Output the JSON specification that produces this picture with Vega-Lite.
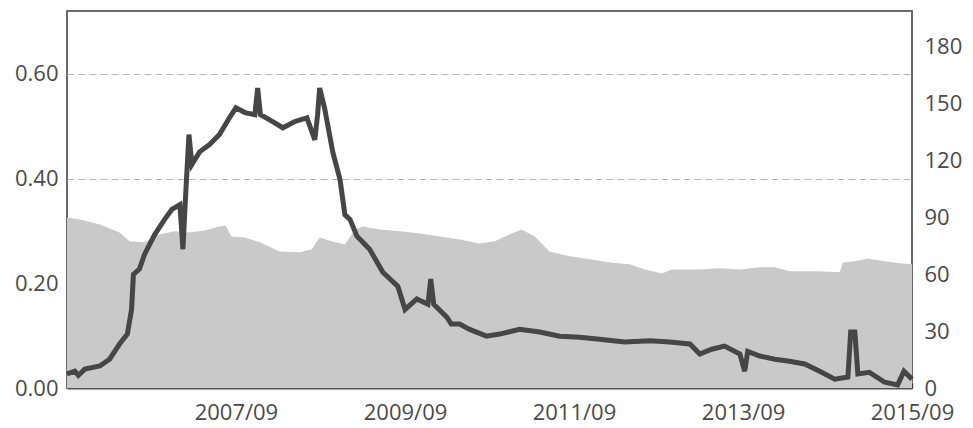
{
  "$schema": "https://vega.github.io/schema/vega-lite/v6.json",
  "width": 845,
  "height": 377,
  "autosize": {"type": "none"},
  "padding": {"left": 67, "top": 11, "right": 61, "bottom": 40},
  "background": "white",
  "config": {
    "view": {"stroke": "#6a6a6a", "strokeWidth": 2},
    "axis": {"labelFont": "Open Sans", "labelFontSize": 22, "labelColor": "#4a4a4a", "domain": false, "ticks": false, "grid": false}
  },
  "datasets": {
    "ratio": [
      {"date": "2005-09-01", "v": 0.027},
      {"date": "2005-10-05", "v": 0.032},
      {"date": "2005-10-20", "v": 0.024},
      {"date": "2005-11-17", "v": 0.036},
      {"date": "2006-01-21", "v": 0.042},
      {"date": "2006-03-04", "v": 0.055},
      {"date": "2006-04-16", "v": 0.084},
      {"date": "2006-05-20", "v": 0.103},
      {"date": "2006-06-07", "v": 0.150},
      {"date": "2006-06-15", "v": 0.217},
      {"date": "2006-07-11", "v": 0.227},
      {"date": "2006-08-02", "v": 0.255},
      {"date": "2006-09-15", "v": 0.293},
      {"date": "2006-10-28", "v": 0.322},
      {"date": "2006-11-28", "v": 0.341},
      {"date": "2007-01-02", "v": 0.350},
      {"date": "2007-01-15", "v": 0.265},
      {"date": "2007-01-28", "v": 0.379},
      {"date": "2007-02-10", "v": 0.484},
      {"date": "2007-02-23", "v": 0.427},
      {"date": "2007-03-28", "v": 0.451},
      {"date": "2007-05-10", "v": 0.465},
      {"date": "2007-06-22", "v": 0.484},
      {"date": "2007-08-04", "v": 0.516},
      {"date": "2007-09-01", "v": 0.535},
      {"date": "2007-10-10", "v": 0.526},
      {"date": "2007-11-22", "v": 0.522},
      {"date": "2007-12-04", "v": 0.573},
      {"date": "2007-12-16", "v": 0.522},
      {"date": "2008-01-25", "v": 0.512},
      {"date": "2008-03-22", "v": 0.497},
      {"date": "2008-05-13", "v": 0.509},
      {"date": "2008-07-04", "v": 0.516},
      {"date": "2008-08-07", "v": 0.474},
      {"date": "2008-08-19", "v": 0.522},
      {"date": "2008-08-28", "v": 0.573},
      {"date": "2008-09-18", "v": 0.535},
      {"date": "2008-10-24", "v": 0.450},
      {"date": "2008-11-24", "v": 0.398},
      {"date": "2008-12-15", "v": 0.331},
      {"date": "2009-01-06", "v": 0.322},
      {"date": "2009-02-05", "v": 0.290},
      {"date": "2009-04-01", "v": 0.265},
      {"date": "2009-05-28", "v": 0.221},
      {"date": "2009-08-01", "v": 0.194},
      {"date": "2009-09-01", "v": 0.150},
      {"date": "2009-10-22", "v": 0.170},
      {"date": "2009-12-09", "v": 0.160},
      {"date": "2009-12-21", "v": 0.208},
      {"date": "2010-01-03", "v": 0.160},
      {"date": "2010-03-01", "v": 0.135},
      {"date": "2010-03-20", "v": 0.122},
      {"date": "2010-04-25", "v": 0.122},
      {"date": "2010-06-07", "v": 0.112},
      {"date": "2010-08-19", "v": 0.099},
      {"date": "2010-10-15", "v": 0.103},
      {"date": "2011-01-09", "v": 0.112},
      {"date": "2011-04-06", "v": 0.107},
      {"date": "2011-07-01", "v": 0.099},
      {"date": "2011-09-25", "v": 0.097},
      {"date": "2011-12-21", "v": 0.093},
      {"date": "2012-04-07", "v": 0.088},
      {"date": "2012-07-24", "v": 0.090},
      {"date": "2012-10-19", "v": 0.088},
      {"date": "2013-01-14", "v": 0.084},
      {"date": "2013-02-26", "v": 0.065},
      {"date": "2013-04-18", "v": 0.074},
      {"date": "2013-06-13", "v": 0.080},
      {"date": "2013-08-18", "v": 0.065},
      {"date": "2013-09-08", "v": 0.032},
      {"date": "2013-09-21", "v": 0.070},
      {"date": "2013-11-12", "v": 0.061},
      {"date": "2014-01-16", "v": 0.055},
      {"date": "2014-03-21", "v": 0.051},
      {"date": "2014-05-25", "v": 0.046},
      {"date": "2014-07-29", "v": 0.032},
      {"date": "2014-10-02", "v": 0.017},
      {"date": "2014-11-28", "v": 0.021},
      {"date": "2014-12-10", "v": 0.107},
      {"date": "2014-12-28", "v": 0.107},
      {"date": "2015-01-10", "v": 0.027},
      {"date": "2015-03-01", "v": 0.030},
      {"date": "2015-05-06", "v": 0.011},
      {"date": "2015-07-01", "v": 0.006},
      {"date": "2015-07-28", "v": 0.032},
      {"date": "2015-09-01", "v": 0.017}
    ],
    "level": [
      {"date": "2005-09-01", "v": 90.0},
      {"date": "2005-10-27", "v": 89.0},
      {"date": "2006-01-21", "v": 86.3},
      {"date": "2006-04-16", "v": 82.1},
      {"date": "2006-05-29", "v": 77.4},
      {"date": "2006-08-02", "v": 76.9},
      {"date": "2006-10-07", "v": 81.1},
      {"date": "2006-12-10", "v": 82.7},
      {"date": "2007-02-10", "v": 82.1},
      {"date": "2007-04-18", "v": 83.2},
      {"date": "2007-06-22", "v": 85.3},
      {"date": "2007-07-18", "v": 85.8},
      {"date": "2007-08-13", "v": 80.0},
      {"date": "2007-10-10", "v": 79.5},
      {"date": "2007-12-13", "v": 76.9},
      {"date": "2008-03-08", "v": 72.1},
      {"date": "2008-06-04", "v": 71.6},
      {"date": "2008-07-25", "v": 73.2},
      {"date": "2008-08-28", "v": 79.5},
      {"date": "2008-10-19", "v": 77.4},
      {"date": "2008-12-15", "v": 75.8},
      {"date": "2009-01-28", "v": 83.7},
      {"date": "2009-03-01", "v": 85.3},
      {"date": "2009-05-13", "v": 83.7},
      {"date": "2009-08-10", "v": 82.7},
      {"date": "2009-11-04", "v": 81.6},
      {"date": "2010-01-31", "v": 80.0},
      {"date": "2010-04-25", "v": 78.4},
      {"date": "2010-07-20", "v": 76.3},
      {"date": "2010-09-24", "v": 77.4},
      {"date": "2010-11-28", "v": 81.1},
      {"date": "2011-01-18", "v": 83.7},
      {"date": "2011-03-16", "v": 80.0},
      {"date": "2011-05-18", "v": 72.1},
      {"date": "2011-08-13", "v": 69.5},
      {"date": "2011-11-09", "v": 67.9},
      {"date": "2012-02-03", "v": 66.3},
      {"date": "2012-04-28", "v": 65.3},
      {"date": "2012-07-03", "v": 62.6},
      {"date": "2012-09-15", "v": 60.5},
      {"date": "2012-10-28", "v": 62.6},
      {"date": "2013-02-26", "v": 62.6},
      {"date": "2013-05-22", "v": 63.2},
      {"date": "2013-08-18", "v": 62.6},
      {"date": "2013-11-12", "v": 63.7},
      {"date": "2014-01-16", "v": 63.7},
      {"date": "2014-03-21", "v": 61.6},
      {"date": "2014-07-29", "v": 61.6},
      {"date": "2014-10-24", "v": 61.1},
      {"date": "2014-11-06", "v": 66.3},
      {"date": "2014-12-28", "v": 66.9},
      {"date": "2015-02-22", "v": 68.4},
      {"date": "2015-05-06", "v": 66.9},
      {"date": "2015-07-10", "v": 65.8},
      {"date": "2015-09-01", "v": 65.3}
    ]
  },
  "layer": [
    {
      "data": {"name": "level"},
      "mark": {"type": "area", "color": "#c9c9c9", "interpolate": "linear"},
      "encoding": {
        "x": {
          "field": "date", "type": "temporal", "title": null,
          "scale": {"domain": ["2005-09-01", "2015-09-01"]},
          "axis": {
            "values": ["2007-09-01", "2009-09-01", "2011-09-01", "2013-09-01", "2015-09-01"],
            "format": "%Y/%m", "labelFlush": false, "labelPadding": 19,
            "domain": true, "domainColor": "#555555", "domainWidth": 2,
            "ticks": true, "tickSize": -5, "tickColor": "#444444", "tickWidth": 1.5
          }
        },
        "y": {
          "field": "v", "type": "quantitative", "title": null,
          "scale": {"domain": [0, 199], "nice": false},
          "axis": {"orient": "right", "values": [0, 30, 60, 90, 120, 150, 180], "labelPadding": 12, "grid": false}
        }
      }
    },
    {
      "data": {"name": "ratio"},
      "mark": {"type": "line", "color": "#464646", "strokeWidth": 5, "strokeJoin": "miter", "interpolate": "linear"},
      "encoding": {
        "x": {"field": "date", "type": "temporal"},
        "y": {
          "field": "v", "type": "quantitative", "title": null,
          "scale": {"domain": [0, 0.72], "nice": false},
          "axis": {"orient": "left", "values": [0, 0.2, 0.4, 0.6], "format": ".2f", "labelPadding": 9,
            "grid": true, "gridColor": "#b5b5b5", "gridDash": [7, 4], "gridWidth": 1}
        }
      }
    }
  ],
  "resolve": {"scale": {"y": "independent"}}
}
